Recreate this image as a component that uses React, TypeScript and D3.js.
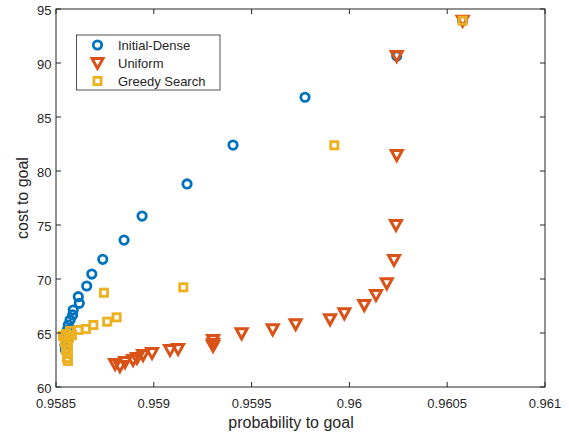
import { useEffect, useRef } from 'react';
import * as d3 from 'd3';

// Initial-Dense (blue circles)
const denseX = [0.960579, 0.960242, 0.959773, 0.959405, 0.95917, 0.95894, 0.958848, 0.958739, 0.958683, 0.958657, 0.958614, 0.958619, 0.958588, 0.958585, 0.958572, 0.958563, 0.958558, 0.958552, 0.958548, 0.958546, 0.958548];
const denseY = [93.9, 90.65, 86.83, 82.4, 78.8, 75.83, 73.6, 71.82, 70.46, 69.35, 68.36, 67.75, 67.13, 66.67, 66.2, 65.74, 65.28, 64.81, 64.35, 63.89, 63.43];

// Uniform (orange triangles)
const uniformX = [0.960579, 0.960242, 0.960242, 0.960238, 0.960228, 0.960191, 0.960136, 0.960076, 0.959974, 0.959901, 0.959725, 0.959608, 0.959449, 0.959303, 0.959303, 0.959303, 0.959124, 0.959083, 0.958991, 0.958945, 0.958914, 0.958894, 0.958853, 0.958827, 0.958802];
const uniformY = [93.92, 90.65, 81.48, 75.0, 71.76, 69.6, 68.52, 67.59, 66.82, 66.27, 65.81, 65.34, 64.97, 64.35, 64.0, 63.8, 63.52, 63.43, 63.15, 62.96, 62.69, 62.5, 62.31, 61.94, 62.13];

// Greedy Search (yellow squares)
const greedyX = [0.960579, 0.959923, 0.959151, 0.958745, 0.95881, 0.958762, 0.958691, 0.958653, 0.958614, 0.958572, 0.958551, 0.958566, 0.958546, 0.958561, 0.958551, 0.958561, 0.958556, 0.958561, 0.958536, 0.958582];
const greedyY = [93.92, 82.38, 69.23, 68.73, 66.45, 66.05, 65.74, 65.37, 65.28, 65.19, 64.91, 64.54, 64.17, 63.8, 63.43, 63.06, 62.69, 62.41, 64.72, 64.81];

const xTicks = [0.9585, 0.959, 0.9595, 0.96, 0.9605, 0.961];
const yTicks = [60, 65, 70, 75, 80, 85, 90, 95];
const legendNames = ['Initial-Dense', 'Uniform', 'Greedy Search'];

const W = 569;
const H = 438;
const FONT = '"Liberation Sans", Arial, sans-serif';
const AXIS = '#262626';

const drawMarker = (g, kind, color, x, y) => {
  if (kind === 'circle') {
    g.append('circle').attr('cx', x).attr('cy', y).attr('r', 4.2)
      .attr('fill', 'none').attr('stroke', color).attr('stroke-width', 2.8);
  } else if (kind === 'tri') {
    g.append('path')
      .attr('d', `M${x - 5.5},${y - 4.5}L${x + 5.5},${y - 4.5}L${x},${y + 5.5}Z`)
      .attr('fill', 'none').attr('stroke', color).attr('stroke-width', 3)
      .attr('stroke-linejoin', 'miter');
  } else {
    g.append('rect').attr('x', x - 3.6).attr('y', y - 3.6).attr('width', 7.2).attr('height', 7.2)
      .attr('fill', 'none').attr('stroke', color).attr('stroke-width', 2.8);
  }
};

const App = () => {
  const svgRef = useRef(null);

  useEffect(() => {
    const svg = d3.select(svgRef.current);
    svg.selectAll('*').remove();

    const left = 56, right = 545, top = 9, bottom = 387;
    const x = d3.scaleLinear().domain([0.9585, 0.961]).range([left, right]);
    const y = d3.scaleLinear().domain([60, 95]).range([bottom, top]);

    svg.append('rect').attr('width', W).attr('height', H).attr('fill', '#fff');

    const series = [
      { xs: denseX, ys: denseY, kind: 'circle', color: '#0072BD' },
      { xs: uniformX, ys: uniformY, kind: 'tri', color: '#D95319' },
      { xs: greedyX, ys: greedyY, kind: 'square', color: '#EDB120' },
    ];

    const marks = svg.append('g');
    series.forEach(s => {
      s.xs.forEach((v, i) => drawMarker(marks, s.kind, s.color, x(v), y(s.ys[i])));
    });

    // box
    const axes = svg.append('g').attr('stroke', AXIS).attr('stroke-width', 1).attr('fill', 'none');
    axes.append('rect').attr('x', left).attr('y', top).attr('width', right - left).attr('height', bottom - top);

    xTicks.forEach(t => {
      axes.append('line').attr('x1', x(t)).attr('x2', x(t)).attr('y1', bottom).attr('y2', bottom - 5);
      axes.append('line').attr('x1', x(t)).attr('x2', x(t)).attr('y1', top).attr('y2', top + 5);
    });
    yTicks.forEach(t => {
      axes.append('line').attr('x1', left).attr('x2', left + 5).attr('y1', y(t)).attr('y2', y(t));
      axes.append('line').attr('x1', right).attr('x2', right - 5).attr('y1', y(t)).attr('y2', y(t));
    });

    const labels = svg.append('g').attr('font-family', FONT).attr('font-size', 13).attr('fill', AXIS);
    labels.selectAll('.xt').data(xTicks).enter().append('text')
      .attr('x', d => x(d)).attr('y', 408).attr('text-anchor', 'middle')
      .text(d => String(+d.toFixed(4)));
    labels.selectAll('.yt').data(yTicks).enter().append('text')
      .attr('x', left - 4.5).attr('y', d => y(d) + 5.5).attr('text-anchor', 'end')
      .text(d => d);

    labels.append('text').attr('x', 291).attr('y', 428)
      .attr('text-anchor', 'middle').attr('font-size', 16).text('probability to goal');
    labels.append('text').attr('transform', `translate(28,${(top + bottom) / 2}) rotate(-90)`)
      .attr('text-anchor', 'middle').attr('font-size', 16).text('cost to goal');

    // legend
    const legend = svg.append('g');
    legend.append('rect').attr('x', 76.5).attr('y', 35).attr('width', 143.5).attr('height', 55)
      .attr('fill', '#fff').attr('stroke', AXIS).attr('stroke-width', 0.8);
    const rowY = [45, 63, 81];
    series.forEach((s, i) => {
      drawMarker(legend, s.kind, s.color, 97.5, rowY[i]);
      legend.append('text').attr('x', 118).attr('y', rowY[i] + 4.5)
        .attr('font-family', FONT).attr('font-size', 13).attr('fill', AXIS)
        .text(legendNames[i]);
    });
  }, []);

  return (
    <svg ref={svgRef} width={W} height={H} style={{ position: 'absolute', left: 0, top: 0 }} />
  );
};

export default App;
